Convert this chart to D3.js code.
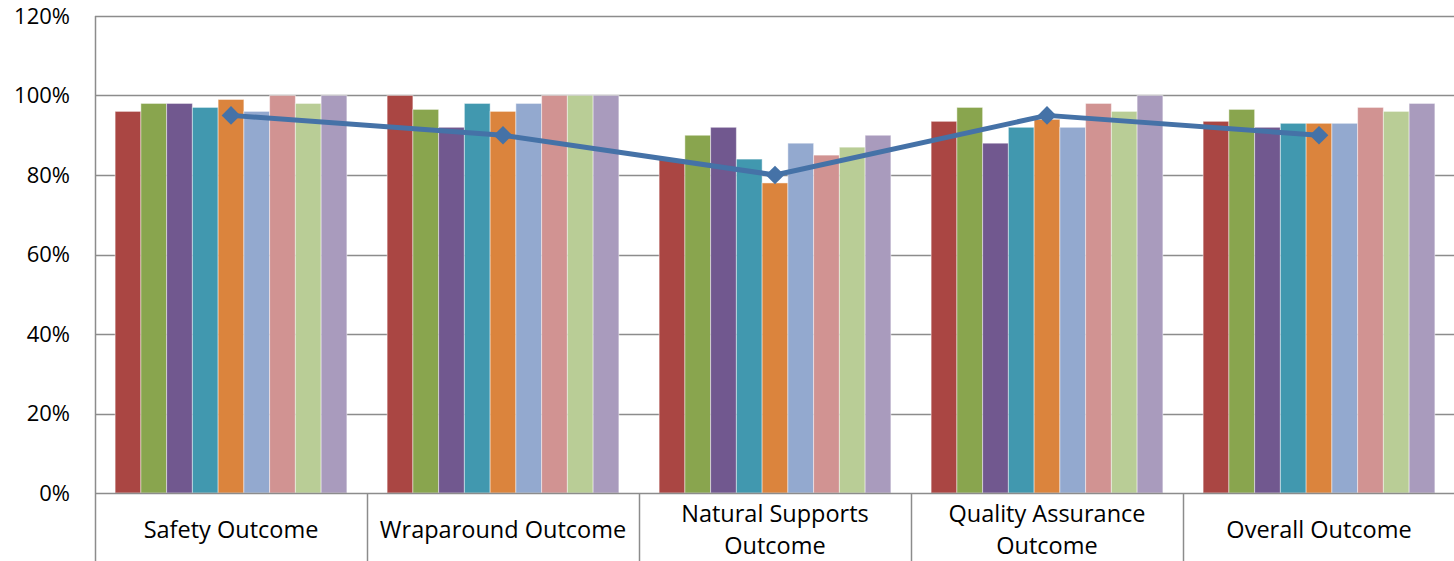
<!DOCTYPE html>
<html>
<head>
<meta charset="utf-8">
<script src="https://cdn.jsdelivr.net/npm/d3@7"></script>
<style>
    html, body { margin: 0; padding: 0; background: #fff; }
    svg { display: block; font-family: "Open Sans", "Lato", sans-serif; }
</style>
</head>
<body>
<div id="chart"></div>
<script>
const categories = ["Safety Outcome", "Wraparound Outcome", "Natural Supports Outcome", "Quality Assurance Outcome", "Overall Outcome"];
const tickLabels = [["Safety Outcome"], ["Wraparound Outcome"], ["Natural Supports", "Outcome"], ["Quality Assurance", "Outcome"], ["Overall Outcome"]];
const seriesNames = ["S1", "S2", "S3", "S4", "S5", "S6", "S7", "S8", "S9"];
const seriesColors = ["#AA4643", "#89A54E", "#71588F", "#4198AF", "#DB843D", "#93A9CF", "#D19392", "#B9CD96", "#A99BBD"];
// one row per category, one value per series
const barValues = [
    [0.96, 0.98, 0.98, 0.97, 0.99, 0.96, 1.00, 0.98, 1.00],
    [1.00, 0.965, 0.92, 0.98, 0.96, 0.98, 1.00, 1.00, 1.00],
    [0.84, 0.90, 0.92, 0.84, 0.78, 0.88, 0.85, 0.87, 0.90],
    [0.935, 0.97, 0.88, 0.92, 0.94, 0.92, 0.98, 0.96, 1.00],
    [0.935, 0.965, 0.92, 0.93, 0.93, 0.93, 0.97, 0.96, 0.98]
];
const lineValues = [0.95, 0.90, 0.80, 0.95, 0.90];
const yTicks = [0, 0.2, 0.4, 0.6, 0.8, 1.0, 1.2];

(() => {
    const width = 1454, height = 561;
    const margin = { top: 16, right: 0, bottom: 68, left: 95 };
    const font = '"Open Sans", "Lato", sans-serif';

    const svg = d3.select("#chart").append("svg")
        .attr("width", width)
        .attr("height", height);

    const x0 = d3.scaleBand()
        .domain(categories)
        .range([margin.left, width + 1])
        .padding(0);

    const gap = x0.bandwidth() * 0.074;
    const x1 = d3.scaleBand()
        .domain(seriesNames)
        .range([gap, x0.bandwidth() - gap])
        .padding(0);

    const y = d3.scaleLinear()
        .domain([0, 1.2])
        .range([height - margin.bottom, margin.top]);

    // gridlines
    svg.append("g")
        .selectAll("line")
        .data(yTicks.filter(d => d > 0))
        .enter().append("line")
        .attr("x1", margin.left)
        .attr("x2", width)
        .attr("y1", d => Math.round(y(d)) + 0.5)
        .attr("y2", d => Math.round(y(d)) + 0.5)
        .attr("stroke", "#8c8c8c")
        .attr("stroke-width", 1.5);

    // bars
    const groups = svg.append("g")
        .selectAll("g")
        .data(categories)
        .enter().append("g")
        .attr("transform", d => `translate(${x0(d)},0)`);

    groups.selectAll("rect")
        .data((d, i) => barValues[i].map((v, j) => ({ s: seriesNames[j], v, c: seriesColors[j] })))
        .enter().append("rect")
        .attr("x", d => x1(d.s))
        .attr("y", d => y(d.v))
        .attr("width", x1.bandwidth())
        .attr("height", d => y(0) - y(d.v))
        .attr("fill", d => d.c)
        .attr("stroke", "rgba(255,255,255,0.45)")
        .attr("stroke-width", 1);

    // y axis
    const yAxis = svg.append("g")
        .attr("transform", `translate(${margin.left},0)`)
        .call(d3.axisLeft(y)
            .tickValues(yTicks)
            .tickFormat(d3.format(".0%"))
            .tickSize(0)
            .tickPadding(25));
    yAxis.select(".domain").remove();
    yAxis.selectAll("text")
        .style("font-family", font)
        .style("font-size", "22px")
        .attr("fill", "#000");

    svg.append("line")
        .attr("x1", margin.left + 0.5).attr("x2", margin.left + 0.5)
        .attr("y1", margin.top).attr("y2", height)
        .attr("stroke", "#8c8c8c")
        .attr("stroke-width", 1.5);

    // x axis baseline and category dividers
    svg.append("line")
        .attr("x1", margin.left).attr("x2", width)
        .attr("y1", y(0) + 0.5).attr("y2", y(0) + 0.5)
        .attr("stroke", "#8c8c8c")
        .attr("stroke-width", 1.5);

    svg.append("g")
        .selectAll("line")
        .data(categories.slice(1))
        .enter().append("line")
        .attr("x1", d => Math.round(x0(d)) + 0.5)
        .attr("x2", d => Math.round(x0(d)) + 0.5)
        .attr("y1", y(0))
        .attr("y2", height)
        .attr("stroke", "#8c8c8c")
        .attr("stroke-width", 1.5);

    // category labels
    const labels = svg.append("g")
        .selectAll("text")
        .data(categories)
        .enter().append("text")
        .attr("x", d => x0(d) + x0.bandwidth() / 2)
        .attr("text-anchor", "middle")
        .style("font-family", font)
        .style("font-size", "23.5px")
        .attr("fill", "#000");

    labels.each(function(d, i) {
        const lines = tickLabels[i];
        const lh = 32;
        const startY = 538 - (lines.length - 1) * lh / 2;
        d3.select(this).selectAll("tspan")
            .data(lines)
            .enter().append("tspan")
            .attr("x", x0(d) + x0.bandwidth() / 2)
            .attr("y", (t, k) => startY + k * lh)
            .text(t => t);
    });

    // line series
    const cx = d => x0(d) + x0.bandwidth() / 2;
    const line = d3.line()
        .x((d, i) => cx(categories[i]))
        .y(d => y(d));

    svg.append("path")
        .datum(lineValues)
        .attr("fill", "none")
        .attr("stroke", "#4572A7")
        .attr("stroke-width", 5)
        .attr("stroke-linejoin", "round")
        .attr("d", line);

    svg.append("g")
        .selectAll("path")
        .data(lineValues)
        .enter().append("path")
        .attr("d", d3.symbol().type(d3.symbolSquare).size(175))
        .attr("transform", (d, i) => `translate(${cx(categories[i])},${y(d)}) rotate(45)`)
        .attr("fill", "#4572A7");
})();
</script>
</body>
</html>
